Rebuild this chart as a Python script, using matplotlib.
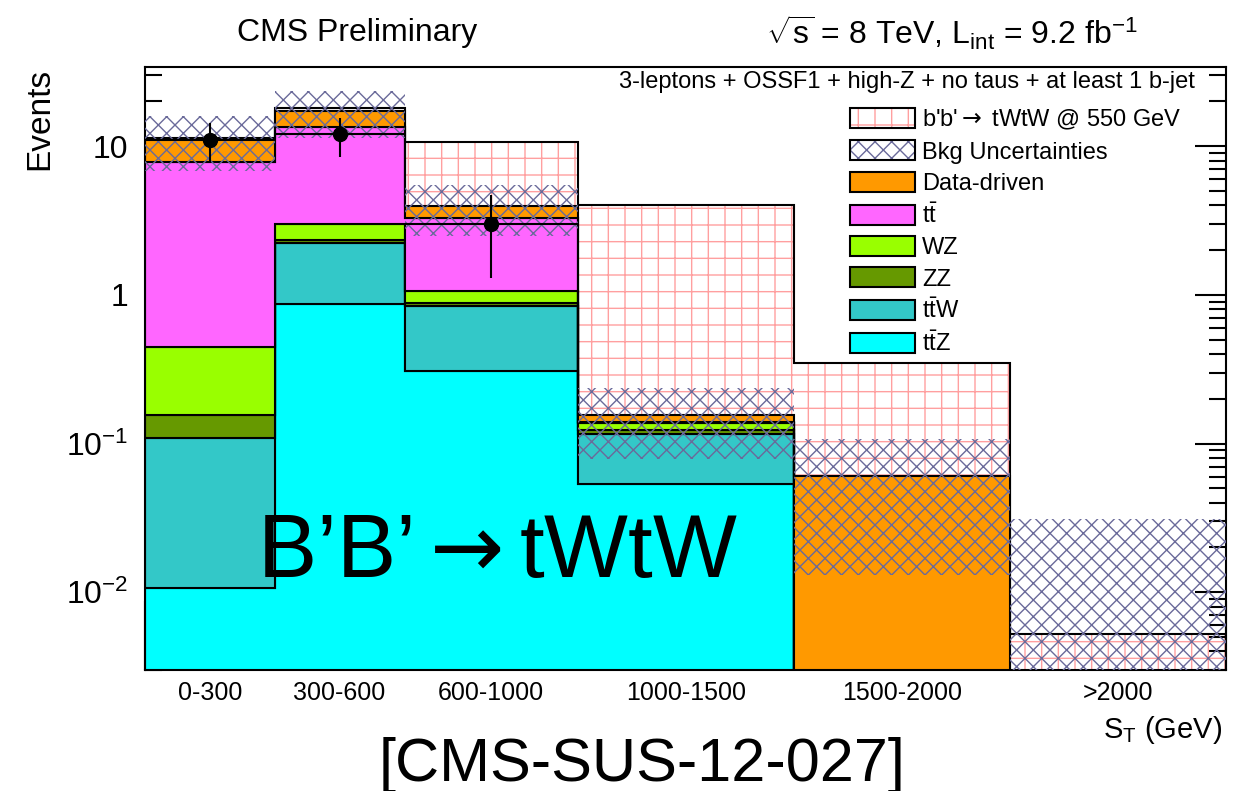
import numpy as np
import matplotlib
matplotlib.use('Agg')
import matplotlib.pyplot as plt
from matplotlib.patches import Patch
from matplotlib.ticker import NullFormatter

plt.rcParams['font.family'] = ['Liberation Sans', 'DejaVu Sans']
plt.rcParams['mathtext.fontset'] = 'custom'
plt.rcParams['mathtext.rm'] = 'Liberation Sans'
plt.rcParams['mathtext.it'] = 'Liberation Sans:italic'
plt.rcParams['mathtext.sf'] = 'DejaVu Sans'
plt.rcParams['hatch.linewidth'] = 1.0

# S_T bins (GeV)
bin_edges = [0, 300, 600, 1000, 1500, 2000, 2500]
bin_labels = ['0-300', '300-600', '600-1000', '1000-1500', '1500-2000', '>2000']

# background stack, bottom to top
ttz = [0.0105, 0.863, 0.307, 0.0532, 0, 0]
ttw = [0.098, 1.38, 0.538, 0.0635, 0, 0]
zz = [0.046, 0.10, 0.032, 0.0063, 0, 0]
wz = [0.293, 0.64, 0.18, 0.0135, 0, 0]
ttbar = [7.35, 10.5, 2.21, 0.0035, 0, 0]
data_driven = [3.62, 3.9, 0.71, 0.0166, 0.06, 0]
bkg_err = [4.6, 6.0, 1.5, 0.078, 0.047, 0.031]

signal = [6.0, 18.0, 10.6, 4.03, 0.346, 0.0052]

data = [11, 12, 3]
data_err = [3.3, 3.5, 1.7]

stack = [ttz, ttw, zz, wz, ttbar, data_driven]
stack_colors = ['#00ffff', '#33c8c8', '#669900', '#99ff00', '#ff66ff', '#ff9900']
sig_color = '#ff9f9f'
unc_color = '#6a6a9a'

edges = np.array(bin_edges)
centers = (edges[:-1] + edges[1:]) / 2
floor = 1e-4

fig = plt.figure(figsize=(12.5, 7.91), dpi=100)
ax = fig.add_axes([0.116, 0.153, 0.865, 0.762])

ax.stairs(signal, edges, baseline=floor, fill=True, facecolor='white',
          edgecolor=sig_color, hatch='+', lw=0, zorder=1)
ax.stairs(signal, edges, baseline=floor, color='black', lw=1.5, zorder=1.1)

bottom = np.full(len(centers), floor)
for vals, col in zip(stack, stack_colors):
    top = bottom + np.array(vals)
    ax.stairs(top, edges, baseline=bottom, fill=True, facecolor=col,
              edgecolor='black', lw=1.5, zorder=2)
    bottom = top

up = bottom + np.array(bkg_err)
lo = np.maximum(bottom - np.array(bkg_err), floor)
ax.stairs(up, edges, baseline=lo, fill=True, facecolor='none',
          edgecolor=unc_color, hatch='xx', lw=0, zorder=3)

n = len(data)
ax.errorbar(centers[:n], data, xerr=(edges[1:n + 1] - edges[:n]) / 2, yerr=data_err,
            fmt='o', color='black', ms=10, lw=1.5, capsize=0, zorder=4)

ax.set_yscale('log')
ax.set_ylim(0.003, 34)
ax.set_xlim(edges[0], edges[-1])

ax.set_xticks(edges)
ax.set_xticklabels([])
ax.set_xticks(centers, bin_labels, minor=True)
ax.tick_params(axis='x', which='major', direction='in', length=50, width=1.5, top=False)
ax.tick_params(axis='x', which='minor', length=0, labelsize=18, pad=8)

ax.set_yticks([0.01, 0.1, 1, 10], [r'$10^{-2}$', r'$10^{-1}$', '1', '10'])
ax.yaxis.set_minor_formatter(NullFormatter())
ax.tick_params(axis='y', which='major', direction='in', length=22, width=1.5,
               right=True, labelsize=23, pad=12)
ax.tick_params(axis='y', which='minor', direction='in', length=12, width=1.5, right=True)
for s in ax.spines.values():
    s.set_linewidth(1.5)

handles = [
    (Patch(facecolor='white', edgecolor=sig_color, hatch='+', lw=0),
     Patch(facecolor='none', edgecolor='black', lw=1.5)),
    (Patch(facecolor='white', edgecolor=unc_color, hatch='xx', lw=0),
     Patch(facecolor='none', edgecolor='black', lw=1.5)),
]
for col in stack_colors[::-1]:
    handles.append(Patch(facecolor=col, edgecolor='black', lw=1.5))
labels = [r"b'b'$\mathsf{\rightarrow}$ tWtW @ 550 GeV", 'Bkg Uncertainties', 'Data-driven',
          r'$\mathrm{t\bar{t}}$', 'WZ', 'ZZ', r'$\mathrm{t\bar{t}W}$', r'$\mathrm{t\bar{t}Z}$']
ax.legend(handles, labels, loc='upper left', bbox_to_anchor=(850 / 1250, 1 - 108 / 791),
          bbox_transform=fig.transFigure, frameon=False, fontsize=17,
          handlelength=2.75, handleheight=0.93, handletextpad=0.3, labelspacing=0.35,
          borderpad=0, borderaxespad=0)

fig.text(357 / 1250, 1 - 33 / 791, 'CMS Preliminary', ha='center', va='center', fontsize=23)
fig.text(952 / 1250, 1 - 33 / 791,
         r'$\sqrt{\mathrm{s}}$ = 8 TeV, L$_{\mathrm{int}}$ = 9.2 fb$^{-1}$',
         ha='center', va='center', fontsize=23)
fig.text(1195 / 1250, 1 - 82 / 791, '3-leptons + OSSF1 + high-Z + no taus + at least 1 b-jet',
         ha='right', va='center', fontsize=17)
fig.text(40 / 1250, 1 - 68 / 791, 'Events', rotation=90, ha='center', va='top', fontsize=24)
fig.text(1222 / 1250, 1 - 730 / 791, r'S$_{\mathrm{T}}$ (GeV)', ha='right', va='center', fontsize=21)
fig.text(497 / 1250, 1 - 577 / 791, r'B’B’$\mathsf{\rightarrow}$tWtW', ha='center', va='baseline',
         fontsize=64)
fig.text(642 / 1250, 1 - 765 / 791, '[CMS-SUS-12-027]', ha='center', va='center', fontsize=44)

fig.savefig('out.png', dpi=100)
